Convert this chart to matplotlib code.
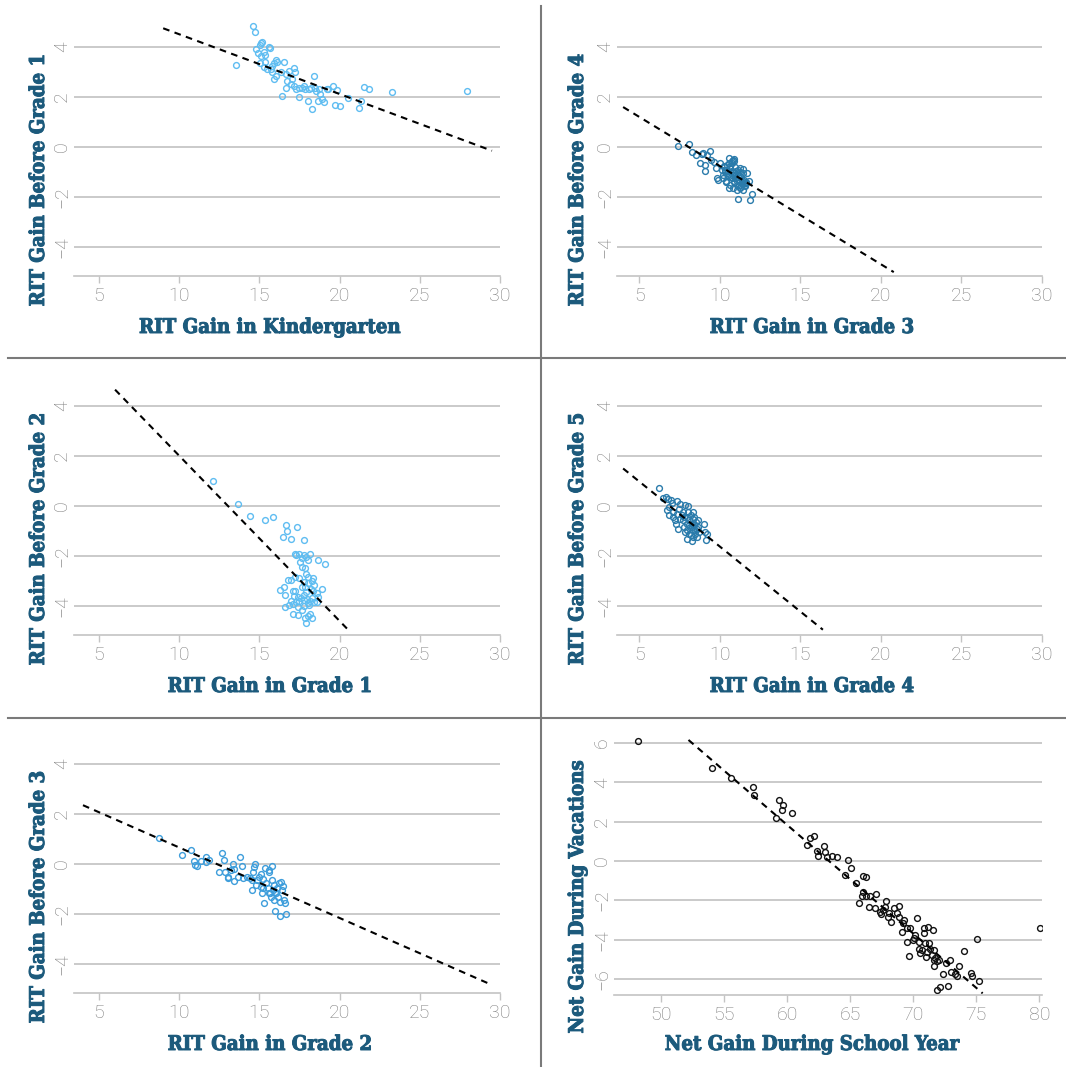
import numpy as np
import matplotlib
matplotlib.use('Agg')
import matplotlib.pyplot as plt
from matplotlib.lines import Line2D
import matplotlib.patheffects as pe

# ---- data ----
# RIT gain in kindergarten vs gain before grade 1
k_gain = [14.57, 14.71, 15.13, 15.19, 15.04, 14.78, 14.92, 15.29, 15.35, 15.60, 15.64, 15.13, 15.35, 15.04,
          15.29, 15.50, 15.70, 15.80, 15.91, 16.01, 16.11, 16.52, 15.76, 15.91, 16.01, 16.32, 16.63, 16.83,
          17.14, 17.24, 17.04, 16.73, 16.94, 16.63, 17.14, 17.29, 17.45, 17.66, 17.76, 17.86, 18.07, 18.23,
          18.38, 18.48, 18.52, 18.69, 18.79, 18.89, 18.64, 19.00, 19.20, 19.30, 19.61, 19.82, 16.42, 17.49,
          18.03, 18.27, 19.71, 20.02, 20.50, 21.36, 21.52, 21.81, 21.22, 13.54, 23.27, 27.94]
g1_before = [4.83, 4.61, 4.14, 4.18, 4.07, 3.93, 3.76, 3.80, 3.69, 4.00, 3.96, 3.62, 3.39, 3.35,
             3.18, 3.12, 3.12, 3.25, 3.35, 3.46, 3.39, 3.39, 2.98, 2.73, 2.84, 2.98, 2.91, 3.05,
             3.16, 2.98, 2.71, 2.64, 2.50, 2.37, 2.44, 2.30, 2.37, 2.37, 2.44, 2.30, 2.30, 2.37,
             2.82, 2.37, 2.23, 2.30, 2.10, 1.92, 1.82, 1.78, 2.30, 2.33, 2.44, 2.27, 2.05, 2.00,
             1.82, 1.51, 1.69, 1.65, 1.96, 1.82, 2.39, 2.33, 1.55, 3.28, 2.18, 2.22]

# grade 3 gain vs gain before grade 4
g3_gain = [7.43, 8.11, 8.26, 8.51, 8.78, 8.88, 8.98, 9.09, 9.09, 9.19, 9.40, 9.44, 9.61, 9.77, 9.81,
           9.92, 10.02, 10.12, 10.19, 10.27, 10.33, 10.39, 10.44, 10.54, 10.58, 10.60, 10.64, 10.68,
           10.75, 10.81, 10.85, 10.89, 10.95, 10.95, 11.02, 11.06, 11.06, 11.10, 11.16, 11.22, 11.27,
           11.33, 11.37, 11.43, 11.47, 11.51, 11.58, 11.68, 11.64, 11.10, 11.89, 11.99, 10.91, 10.75,
           10.48, 11.27, 10.25, 10.35, 10.45, 10.56, 10.66, 10.76, 10.86, 10.97, 11.07, 11.17, 11.28,
           11.38, 11.48, 11.58, 10.21, 10.41, 10.62, 10.82, 11.03, 11.23, 11.44, 10.76, 10.90, 10.56,
           11.28, 11.64, 11.79]
g4_before = [0.03, 0.12, -0.18, -0.31, -0.65, -0.27, -0.22, -0.71, -0.94, -0.31, -0.15, -0.51, -0.58,
             -0.85, -1.25, -1.32, -0.62, -0.92, -1.12, -0.78, -0.98, -1.39, -0.71, -1.12, -0.44, -1.62,
             -0.85, -1.19, -0.65, -0.98, -0.51, -1.39, -0.78, -1.05, -1.25, -1.52, -1.72, -0.92, -1.12,
             -1.32, -1.59, -1.19, -1.45, -0.89, -1.70, -1.32, -1.52, -1.02, -1.39, -2.06, -2.10, -1.86,
             -0.55, -1.25, -0.94, -0.98, -0.77, -0.91, -1.04, -1.17, -0.77, -0.97, -1.11, -1.24, -1.37,
             -1.51, -1.17, -1.31, -1.44, -1.57, -1.24, -1.37, -1.51, -1.64, -0.97, -0.84, -1.04, -0.55,
             -0.47, -0.64, -1.64, -1.44, -1.37]

# grade 1 gain vs gain before grade 2
g1_gain = [12.12, 13.64, 14.41, 15.34, 15.83, 16.68, 17.32, 16.75, 16.47, 16.94, 17.81, 17.22, 17.26,
           17.49, 17.64, 17.75, 17.92, 18.06, 18.16, 18.64, 19.08, 17.53, 17.68, 17.85, 17.89, 17.22,
           17.49, 18.02, 18.34, 16.79, 16.94, 17.75, 18.06, 18.28, 18.42, 17.64, 17.85, 18.21, 18.90,
           16.30, 16.51, 17.10, 17.24, 17.91, 18.34, 18.58, 16.58, 17.14, 17.43, 17.60, 17.81, 17.96,
           18.28, 18.68, 16.94, 17.26, 17.47, 17.75, 18.01, 18.16, 18.43, 16.62, 16.83, 17.09, 17.43,
           17.79, 18.07, 17.68, 17.11, 17.39, 17.85, 18.02, 18.28, 17.89, 18.13, 18.59]
g2_before = [1.02, 0.07, -0.38, -0.56, -0.43, -0.77, -0.83, -1.01, -1.23, -1.33, -1.37, -1.91, -1.95,
             -1.93, -2.07, -1.97, -2.04, -2.15, -1.91, -2.15, -2.31, -2.24, -2.44, -2.47, -2.71, -2.82,
             -2.87, -2.85, -2.87, -2.95, -2.94, -3.05, -3.09, -3.01, -3.14, -3.25, -3.22, -3.32, -3.32,
             -3.36, -3.25, -3.41, -3.38, -3.45, -3.38, -3.48, -3.56, -3.58, -3.62, -3.68, -3.54, -3.72,
             -3.68, -3.65, -3.79, -3.83, -3.81, -3.76, -3.89, -3.79, -3.85, -4.03, -3.95, -3.92, -4.03,
             -3.99, -3.95, -4.16, -4.30, -4.35, -4.46, -4.39, -4.48, -4.68, -4.32, -3.85]

# grade 4 gain vs gain before grade 5
g4_gain = [6.22, 6.49, 6.66, 6.80, 6.95, 6.70, 6.87, 7.03, 7.32, 7.53, 6.87, 7.07, 7.22, 7.26, 7.12,
           7.37, 7.49, 7.63, 7.74, 7.84, 8.05, 7.69, 7.78, 7.84, 7.95, 7.99, 8.11, 8.15, 8.22, 8.26,
           8.32, 8.36, 8.40, 8.46, 8.53, 8.57, 8.61, 8.67, 8.73, 7.99, 8.26, 9.00, 9.09, 9.13, 9.19,
           8.05, 8.32, 7.53, 7.39, 7.95, 8.20, 8.42, 7.80, 8.07, 8.28, 8.49, 8.65, 8.11, 8.36]
g5_before = [0.74, 0.31, 0.35, 0.27, 0.24, -0.16, -0.03, 0.11, 0.20, 0.08, -0.36, -0.43, -0.54, -0.72,
             -0.23, -0.30, -0.13, -0.36, -0.23, 0.04, 0.00, -0.56, -0.83, -1.03, -0.70, -0.43, -0.56,
             -0.83, -0.36, -0.70, -0.97, -0.50, -0.77, -1.10, -0.63, -0.90, -1.23, -0.56, -1.03, -1.30,
             -1.41, -0.72, -1.03, -1.37, -1.13, -0.23, -0.23, -0.50, -0.90, -0.97, -1.17, -0.43, -0.43,
             -0.77, -0.83, -0.97, -0.83, -1.10, -1.23]

# grade 2 gain vs gain before grade 3
g2_gain = [8.76, 10.16, 10.76, 10.95, 11.00, 11.12, 11.37, 11.65, 11.69, 11.86, 12.48, 12.67, 12.77,
           12.86, 13.03, 13.07, 13.22, 13.33, 13.39, 13.41, 13.67, 13.81, 13.92, 13.96, 14.24, 14.41,
           14.52, 14.56, 14.60, 14.65, 14.73, 14.77, 14.88, 14.98, 15.09, 15.15, 15.20, 15.24, 15.30,
           15.37, 15.41, 15.51, 15.58, 15.62, 15.66, 15.73, 15.79, 15.83, 15.88, 15.94, 16.00, 16.05,
           16.11, 16.15, 16.22, 16.26, 16.30, 16.36, 16.43, 16.47, 16.51, 16.62, 16.68, 15.79, 15.09,
           16.00, 15.62]
g3_before = [1.05, 0.38, 0.58, 0.11, -0.03, -0.09, 0.11, 0.27, 0.07, 0.17, -0.30, 0.44, 0.15, -0.30,
             -0.50, -0.56, -0.23, 0.00, -0.19, -0.67, -0.50, 0.27, -0.09, -0.54, -0.50, -0.56, -0.63,
             -1.03, -0.30, -0.13, 0.00, -0.83, -0.63, -0.50, -0.39, -1.17, -0.97, -0.60, -1.57, -0.16,
             -0.77, -0.97, -0.30, -0.23, -1.17, -1.30, -0.63, -1.03, -1.44, -0.83, -1.88, -1.17, -0.97,
             -1.30, -0.77, -1.50, -2.08, -0.70, -1.03, -0.87, -1.44, -1.54, -2.01, -0.09, -0.90, -1.10,
             -1.14]

# net gain during school year vs net gain during vacations
school_gain = [48.20, 54.07, 55.56, 57.28, 57.38, 59.39, 59.66, 59.63, 59.10, 60.37, 61.61, 61.83, 62.14,
               62.35, 62.49, 62.96, 63.02, 63.20, 63.60, 63.94, 64.87, 65.05, 64.60, 65.48, 66.06, 66.24,
               66.01, 65.93, 66.27, 65.74, 66.59, 67.04, 66.53, 66.98, 67.33, 67.43, 67.57, 67.83, 67.78,
               68.12, 68.25, 68.04, 68.44, 68.84, 68.70, 68.89, 69.18, 69.29, 69.15, 69.50, 69.71, 69.50,
               69.68, 69.97, 70.03, 70.29, 70.16, 70.42, 70.48, 70.50, 70.69, 70.82, 70.87, 70.95, 71.08,
               71.14, 71.22, 71.01, 71.35, 71.48, 71.56, 71.61, 71.67, 71.75, 71.88, 71.61, 72.01, 71.88,
               72.09, 72.35, 72.62, 72.72, 72.94, 72.99, 73.33, 73.47, 73.60, 74.00, 74.60, 74.66, 75.05,
               75.24, 80.08]
vacation_gain = [6.07, 4.74, 4.23, 3.77, 3.35, 3.09, 2.84, 2.58, 2.16, 2.45, 0.83, 1.17, 1.26, 0.53,
                 0.24, 0.75, 0.46, 0.20, 0.27, 0.20, 0.03, -0.36, -0.73, -1.12, -0.75, -0.82, -1.55, -1.80,
                 -1.80, -2.11, -1.80, -1.67, -2.31, -2.36, -2.57, -2.70, -2.48, -2.01, -2.31, -2.65, -3.08,
                 -2.82, -2.40, -2.26, -2.62, -2.86, -3.13, -2.99, -3.59, -3.42, -3.42, -4.10, -4.81, -4.01,
                 -3.93, -2.91, -3.76, -4.10, -4.49, -4.69, -4.52, -3.67, -3.42, -4.15, -4.61, -3.33, -4.15,
                 -4.86, -4.49, -4.78, -3.50, -4.52, -5.03, -4.91, -5.08, -5.32, -5.03, -6.56, -6.39, -5.75,
                 -5.17, -6.34, -5.00, -5.63, -5.71, -5.85, -5.34, -4.56, -5.68, -5.85, -3.98, -6.10, -3.42]

# dashed fit lines: slope, intercept, x start, x end
fit_slope = [-0.239, -0.393, -0.661, -0.520, -0.282, -0.552]
fit_intercept = [6.90, 3.17, 8.62, 3.58, 3.48, 34.96]
fit_x_start = [9.0, 4.0, 6.0, 4.0, 4.0, 52.2]
fit_x_end = [29.5, 20.8, 20.6, 16.4, 29.5, 75.5]

x_labels = ['RIT Gain in Kindergarten', 'RIT Gain in Grade 3', 'RIT Gain in Grade 1',
            'RIT Gain in Grade 4', 'RIT Gain in Grade 2', 'Net Gain During School Year']
y_labels = ['RIT Gain Before Grade 1', 'RIT Gain Before Grade 4', 'RIT Gain Before Grade 2',
            'RIT Gain Before Grade 5', 'RIT Gain Before Grade 3', 'Net Gain During Vacations']

xs = [k_gain, g3_gain, g1_gain, g4_gain, g2_gain, school_gain]
ys = [g1_before, g4_before, g2_before, g5_before, g3_before, vacation_gain]
colors = ['#5fbdf1', '#2a7bab', '#5fbdf1', '#2a7bab', '#3d9ddb', '#111111']

W, H = 1066, 1067
LABEL_COLOR = '#1c5a7c'
TICK_COLOR = '#7e7e7e'

fig = plt.figure(figsize=(W / 100, H / 100), dpi=100)


def px_axes(left, right, top, bottom):
    return fig.add_axes([left / W, 1 - bottom / H, (right - left) / W, (bottom - top) / H])


label_kw = dict(fontsize=14.6, fontweight='bold', color=LABEL_COLOR,
                family='DejaVu Serif', fontstretch='condensed',
                path_effects=[pe.withStroke(linewidth=0.7, foreground=LABEL_COLOR)])

row_off = [0, 359, 717]
for i in range(6):
    row, col = i // 2, i % 2
    off = row_off[row]
    if i == 5:
        ax = px_axes(614, 1042, off + 14, off + 278)
        ax.set_xlim(46.3, 80.2)
        ax.set_ylim(-6.8, 6.6)
        ax.set_yticks([-6, -4, -2, 0, 2, 4, 6])
        ax.set_xticks([50, 55, 60, 65, 70, 75, 80])
    else:
        if col == 0:
            ax = px_axes(74, 500, off + 17, off + 276)
            ax.set_xlim(3.44, 30)
        else:
            ax = px_axes(617, 1042, off + 17, off + 276)
            ax.set_xlim(3.62, 30)
        ax.set_ylim(-5.16, 5.2)
        ax.set_yticks([-4, -2, 0, 2, 4])
        ax.set_xticks([5, 10, 15, 20, 25, 30])

    for s in ['top', 'right', 'left']:
        ax.spines[s].set_visible(False)
    ax.spines['bottom'].set_color('#c4c4c4')
    ax.spines['bottom'].set_linewidth(1.2)
    ax.grid(axis='y', color='#bcbcbc', linewidth=1.1)
    ax.set_axisbelow(True)
    ax.tick_params(axis='y', length=0, pad=2, labelsize=14, labelcolor=TICK_COLOR)
    ax.tick_params(axis='x', length=5, width=1, color='#c4c4c4', pad=3,
                   labelsize=14, labelcolor=TICK_COLOR)
    for lab in ax.get_yticklabels():
        lab.set_rotation(90)
        lab.set_va('center')
        lab.set_family('Roboto')
        lab.set_weight('light')
    for lab in ax.get_xticklabels():
        lab.set_family('Roboto')
        lab.set_weight('light')

    ax.plot(xs[i], ys[i], linestyle='none', marker='o', markersize=4.2,
            markerfacecolor='none', markeredgecolor=colors[i], markeredgewidth=1.0)

    fx = np.array([fit_x_start[i], fit_x_end[i]])
    fy = fit_slope[i] * fx + fit_intercept[i]
    ax.add_line(Line2D(fx, fy, color='black', linewidth=1.5,
                       linestyle=(0, (3.2, 2.6)), clip_on=False))

    cx = 270 if col == 0 else 812
    fig.text(cx / W, 1 - (off + 327) / H, x_labels[i], ha='center', va='center', **label_kw)
    lx = 38 if col == 0 else 577
    fig.text(lx / W, 1 - (off + 180) / H, y_labels[i], ha='center', va='center',
             rotation=90, **label_kw)

# panel separators
sep = dict(color='#7a7a7a', linewidth=1.5, transform=fig.transFigure)
fig.add_artist(Line2D([541 / W, 541 / W], [0, 1 - 6 / H], **sep))
fig.add_artist(Line2D([8 / W, 1], [1 - 358 / H, 1 - 358 / H], **sep))
fig.add_artist(Line2D([8 / W, 1], [1 - 718 / H, 1 - 718 / H], **sep))

fig.savefig('out.png', dpi=100)
